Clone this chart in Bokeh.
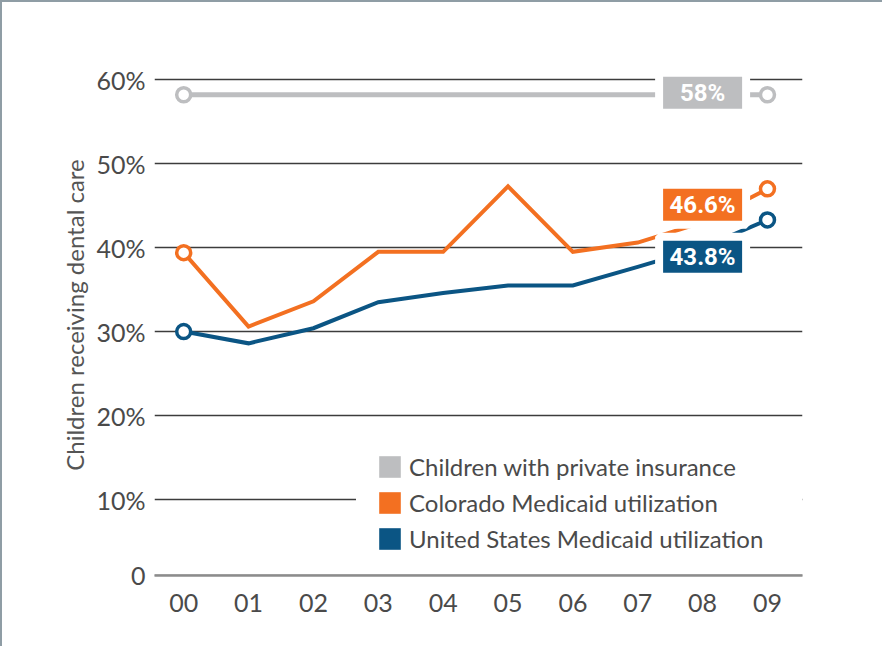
from bokeh.plotting import figure
from bokeh.models import Range1d, FixedTicker, Legend, LegendItem
from bokeh.core.properties import value
from bokeh.embed import file_html
from bokeh.resources import INLINE

# ---- data ----
years = ["00", "01", "02", "03", "04", "05", "06", "07", "08", "09"]
private_ins = [58.2, 58.2, 58.2, 58.2, 58.2, 58.2, 58.2, 58.2, 58.2, 58.2]
colorado = [39.4, 30.6, 33.6, 39.5, 39.5, 47.3, 39.5, 40.6, 43.0, 47.0]
us_medicaid = [30.0, 28.6, 30.4, 33.5, 34.6, 35.5, 35.5, 37.7, 40.0, 43.3]
series_names = ["Children with private insurance",
                "Colorado Medicaid utilization",
                "United States Medicaid utilization"]
end_labels = ["58%", "46.6%", "43.8%"]
y_tick_values = [1, 10, 20, 30, 40, 50, 60]
y_tick_labels = ["0", "10%", "20%", "30%", "40%", "50%", "60%"]

# ---- styles ----
GRAY = "#bdbec0"
ORANGE = "#f37021"
BLUE = "#0b5584"
TEXT = "#4a4a4a"
LABEL_IDX = 8
LABEL_SHIFT = [0.25, 2.1, -1.1]

xs = list(range(len(years)))
all_series = [private_ins, colorado, us_medicaid]
colors = [GRAY, ORANGE, BLUE]
widths = [5, 4, 4]

p = figure(frame_width=648, frame_height=521,
           min_border_left=152, min_border_right=80,
           min_border_top=52, min_border_bottom=71,
           x_range=Range1d(-0.45, 9.54), y_range=Range1d(0.95, 63.0),
           output_backend="svg", toolbar_location=None)
p.outline_line_color = None
p.background_fill_color = "white"
p.border_fill_color = "white"
p.styles = {"border-top": "2px solid #8f9da5", "border-left": "2px solid #8f9da5"}

p.xgrid.visible = False
p.ygrid.grid_line_color = "#3c3c3c"
p.ygrid.grid_line_width = 1.5

# y axis
p.yaxis.ticker = FixedTicker(ticks=y_tick_values)
p.yaxis.major_label_overrides = dict(zip(y_tick_values, y_tick_labels))
p.yaxis.axis_line_color = None
p.yaxis.major_tick_line_color = None
p.yaxis.minor_tick_line_color = None
p.yaxis.major_label_standoff = 3
p.yaxis.major_label_text_font = "Lato"
p.yaxis.major_label_text_font_size = "25px"
p.yaxis.major_label_text_color = TEXT
p.yaxis.axis_label = "Children receiving dental care"
p.yaxis.axis_label_text_font = "Lato"
p.yaxis.axis_label_text_font_size = "24px"
p.yaxis.axis_label_text_font_style = "normal"
p.yaxis.axis_label_text_color = "#555555"
p.yaxis.axis_label_standoff = 4

# x axis
p.xaxis.ticker = FixedTicker(ticks=xs)
p.xaxis.major_label_overrides = {i: years[i] for i in xs}
p.xaxis.axis_line_color = "#8c8c8c"
p.xaxis.axis_line_width = 2.5
p.xaxis.major_tick_line_color = None
p.xaxis.minor_tick_line_color = None
p.xaxis.major_label_standoff = 12
p.xaxis.major_label_text_font = "Lato"
p.xaxis.major_label_text_font_size = "25px"
p.xaxis.major_label_text_color = TEXT

# lines and end markers
for s, c, w in zip(all_series, colors, widths):
    p.line(xs, s, line_color=c, line_width=w, line_join="miter")
    p.scatter([xs[0], xs[-1]], [s[0], s[-1]], size=14, fill_color="white",
              line_color=c, line_width=3.5)

# end value boxes
bx = [xs[LABEL_IDX]] * 3
by = [s[LABEL_IDX] + d for s, d in zip(all_series, LABEL_SHIFT)]
p.rect(bx, by, width=87, height=40, width_units="screen", height_units="screen",
       fill_color=colors, line_color="white", line_width=8)
p.text(bx, by, text=end_labels, text_align="center", text_baseline="middle",
       text_font=value("Roboto"), text_font_style="bold", text_font_size="24px",
       text_color="white")

# legend swatches (zero-size rects on the series points, used only for the legend)
items = []
for name, s, c in zip(series_names, all_series, colors):
    r = p.rect(x=xs, y=s, width=0, height=0, fill_color=c, line_color=None)
    items.append(LegendItem(label=name, renderers=[r]))
legend = Legend(items=items, location=(202, 2), padding=20, spacing=7,
                glyph_width=27, glyph_height=27, label_standoff=6,
                label_width=400, label_text_font="Lato",
                label_text_font_size="24px", label_text_color=TEXT,
                border_line_alpha=0, background_fill_color="white",
                background_fill_alpha=1)
p.add_layout(legend)

open("out.html", "w").write(file_html(p, INLINE))
